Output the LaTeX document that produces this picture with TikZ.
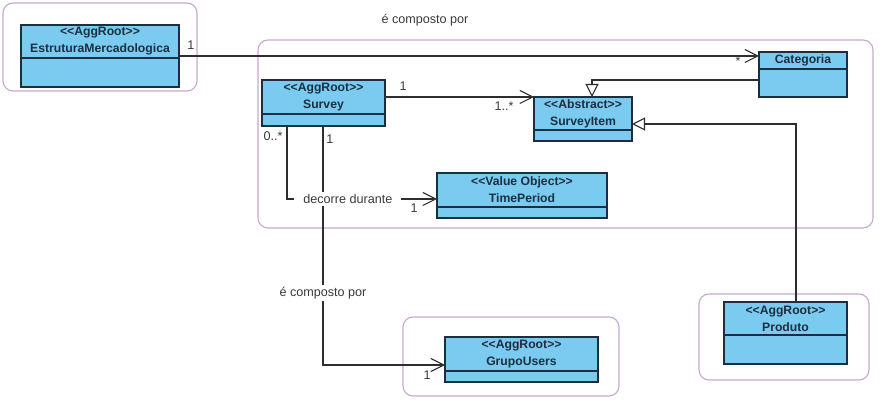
\documentclass[tikz,border=0pt]{standalone}
\usepackage{fontspec}
\setmainfont{Liberation Sans}
\usetikzlibrary{arrows.meta,calc}
\definecolor{clsfill}{HTML}{7BCBF1}
\definecolor{clsdraw}{HTML}{1C2E40}
\definecolor{pkgdraw}{HTML}{C9A8D0}
\definecolor{lblcol}{HTML}{3A3A3A}
\definecolor{lncol}{HTML}{2E2E2E}
\newcommand{\umlcls}[7]{%
  \pgfmathsetmacro\uclW{#4-#2}\pgfmathsetmacro\uclH{#5-#3}%
  \pgfmathsetmacro\uclX{(#2+#4)/2}\pgfmathsetmacro\uclY{(#3+#5)/2}%
  \pgfmathsetmacro\uclT{(#3+#6)/2}%
  \node[cls, minimum width=\uclW pt, minimum height=\uclH pt] (#1) at (\uclX,\uclY) {};
  \draw[clsdraw, line width=1.2pt] (#2,#6) -- (#4,#6);
  \node[clstxt] (#1-t) at (\uclX,\uclT) {#7};
}
\begin{document}
\begin{tikzpicture}[x=1pt,y=-1pt,
  cls/.style={rectangle, draw=clsdraw, fill=clsfill, line width=1.2pt, inner sep=0pt, outer sep=0pt},
  clstxt/.style={align=center, font=\bfseries\fontsize{12.2}{17}\selectfont, text=clsdraw, inner sep=0pt},
  pkg/.style={draw=pkgdraw, line width=1.1pt, rounded corners=10pt},
  assoc/.style={draw=lncol, line width=1.1pt, -{Straight Barb[length=13pt,width=13pt]}},
  gen/.style={draw=lncol, line width=1.1pt, -{Triangle[length=13pt,width=13pt,fill=white]}},
  lbl/.style={fill=white, font=\fontsize{12.6}{14}\selectfont, text=lblcol, inner xsep=9pt, inner ysep=2pt},
  mult/.style={font=\fontsize{12.6}{14}\selectfont, text=lblcol, inner sep=0pt}]
\useasboundingbox[fill=white] (0,0) rectangle (884,411);
% packages
\draw[pkg] (3,3) rectangle (197,91);
\draw[pkg] (258,40) rectangle (873,228);
\draw[pkg] (403,317) rectangle (619,396);
\draw[pkg] (699,294) rectangle (869,380);
% classes
\umlcls{em}{21}{25}{179}{87}{58}{<{}<AggRoot>{}>\\EstruturaMercadologica}
\umlcls{sv}{262}{80}{385}{126}{114}{<{}<AggRoot>{}>\\Survey}
\umlcls{cat}{759}{52}{847}{97}{69}{Categoria}
\umlcls{si}{534}{97}{632}{141}{130}{<{}<Abstract>{}>\\SurveyItem}
\umlcls{tp}{437}{173}{607}{218}{207}{<{}<Value Object>{}>\\TimePeriod}
\umlcls{gu}{445}{337}{598}{382}{371}{<{}<AggRoot>{}>\\GrupoUsers}
\umlcls{pr}{724}{302}{847}{364}{335}{<{}<AggRoot>{}>\\Produto}
% connectors
\draw[assoc] (em.east) -- (em.east -| cat.west);
\coordinate (svR) at ($(sv.north east)+(0,17)$);
\draw[assoc] (svR) -- (svR -| si.west);
\coordinate (catL) at ($(cat.south west)+(0,-17)$);
\coordinate (siTop) at ($(si.north west)+(58,0)$);
\draw[gen] (catL) -| (siTop);
\coordinate (prTop) at ($(pr.north)+(10.5,0)$);
\coordinate (siR) at ($(si.south east)+(0,-17)$);
\draw[gen] (prTop) |- (siR);
\coordinate (svB1) at ($(sv.south west)+(61,0)$);
\coordinate (guL) at ($(gu.west)+(0,5.5)$);
\draw[assoc] (svB1) |- (guL) node[lbl, pos=0.349] (l2) {é composto por};
\coordinate (svB0) at ($(sv.south west)+(25,0)$);
\coordinate (tpL) at ($(tp.west)+(0,3.5)$);
\draw[assoc] (svB0) |- (tpL) node[lbl, pos=0.703] (l3) {decorre durante};
% labels
\node[mult] (l1) at (425,20) {é composto por};
\node[mult] (m1) at (191,45) {1};
\node[mult] (m2) at (738,61) {*};
\node[mult] (m3) at (403,86) {1};
\node[mult] (m4) at (504,106) {1..*};
\node[mult] (m5) at (273,136) {0..*};
\node[mult] (m6) at (330,139) {1};
\node[mult] (m7) at (414,208) {1};
\node[mult] (m8) at (427,375) {1};
\end{tikzpicture}
\end{document}
